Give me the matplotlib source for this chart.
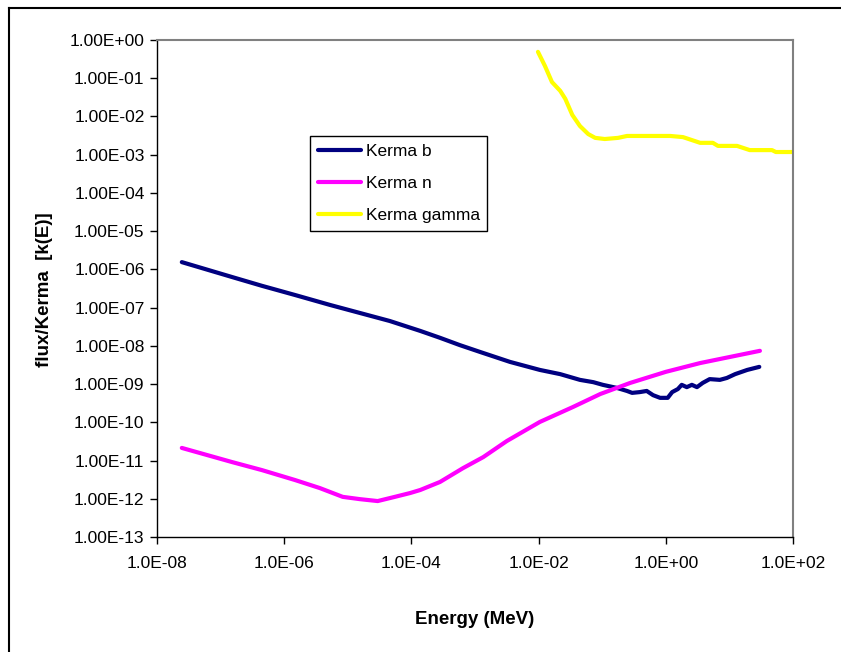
import numpy as np
import matplotlib
matplotlib.use("Agg")
import matplotlib.pyplot as plt
from matplotlib.lines import Line2D
from matplotlib.ticker import FixedLocator, FuncFormatter

plt.rcParams['font.family'] = ['Liberation Sans', 'DejaVu Sans']

# values, stored as log10(energy), log10(flux/kerma)
b_logE = [-7.61, -6.82, -6.35, -5.83, -5.28, -4.81, -4.34, -3.86, -3.55, -3.24,
          -2.92, -2.45, -1.98, -1.66, -1.35, -1.14, -0.99, -0.77, -0.61, -0.53,
          -0.41, -0.30, -0.20, -0.09, 0.03, 0.10, 0.19, 0.25, 0.33, 0.41,
          0.49, 0.58, 0.69, 0.85, 0.96, 1.09, 1.28, 1.47]
b_logK = [-5.81, -6.20, -6.43, -6.67, -6.93, -7.14, -7.35, -7.61, -7.79, -7.98,
          -8.16, -8.42, -8.63, -8.74, -8.89, -8.95, -9.02, -9.10, -9.18, -9.23,
          -9.21, -9.18, -9.29, -9.36, -9.36, -9.21, -9.13, -9.02, -9.08, -9.02,
          -9.08, -8.97, -8.87, -8.89, -8.84, -8.74, -8.63, -8.55]

n_logE = [-7.61, -6.82, -6.35, -5.83, -5.44, -5.08, -4.81, -4.53, -4.26, -4.02,
          -3.86, -3.55, -3.19, -2.87, -2.50, -1.98, -1.46, -1.03, -0.56, 0.0,
          0.54, 1.01, 1.48]
n_logK = [-10.67, -11.04, -11.25, -11.51, -11.72, -11.95, -12.01, -12.06, -11.95, -11.85,
          -11.77, -11.56, -11.20, -10.91, -10.49, -9.99, -9.60, -9.26, -8.97, -8.68,
          -8.45, -8.29, -8.13]

g_logE = [-2.01, -1.90, -1.79, -1.66, -1.58, -1.47, -1.35, -1.22, -1.11, -0.96,
          -0.75, -0.61, -0.25, 0.07, 0.27, 0.54, 0.74, 0.82, 1.12, 1.32,
          1.67, 1.73, 2.00]
g_logK = [-0.31, -0.68, -1.10, -1.33, -1.54, -1.96, -2.25, -2.46, -2.56, -2.59,
          -2.56, -2.51, -2.51, -2.51, -2.54, -2.69, -2.69, -2.77, -2.77, -2.88,
          -2.88, -2.93, -2.93]

series = [("Kerma b", b_logE, b_logK, "#000080"),
          ("Kerma n", n_logE, n_logK, "#FF00FF"),
          ("Kerma gamma", g_logE, g_logK, "#FFFF00")]

fig = plt.figure(figsize=(8.41, 6.52), dpi=100)
ax = fig.add_axes([157/841, 1-537/652, 636/841, 497/652])

for name, le, lk, col in series:
    ax.plot(10**np.array(le), 10**np.array(lk), color=col, lw=3,
            solid_capstyle='round', label=name)

ax.set_xscale('log')
ax.set_yscale('log')
ax.set_xlim(1e-8, 1e2)
ax.set_ylim(1e-13, 1e0)

ax.xaxis.set_major_locator(FixedLocator([10.0**k for k in range(-8, 3, 2)]))
ax.yaxis.set_major_locator(FixedLocator([10.0**k for k in range(-13, 1)]))
ax.xaxis.set_minor_locator(FixedLocator([]))
ax.yaxis.set_minor_locator(FixedLocator([]))
ax.xaxis.set_major_formatter(FuncFormatter(lambda v, p: f"{v:.1E}"))
ax.yaxis.set_major_formatter(FuncFormatter(lambda v, p: f"{v:.2E}"))
ax.tick_params(direction='out', length=5, width=1, labelsize=12.5)
ax.tick_params(axis='x', pad=9)
ax.tick_params(axis='y', pad=4)

for s in ['top', 'right']:
    ax.spines[s].set_color('#808080')
    ax.spines[s].set_linewidth(1.5)
for s in ['left', 'bottom']:
    ax.spines[s].set_color('black')
    ax.spines[s].set_linewidth(1)

fig.text(475/841, 1-620/652, "Energy (MeV)", ha='center', va='center',
         fontsize=13.5, fontweight='bold')
fig.text(45/841, 1-290/652, "flux/Kerma  [k(E)]", ha='center', va='center',
         rotation=90, fontsize=13.5, fontweight='bold')

leg = ax.legend(loc='upper left', bbox_to_anchor=(310/841, 1-136/652),
                bbox_transform=fig.transFigure, borderaxespad=0,
                fontsize=12.5, fancybox=False, framealpha=1, edgecolor='black',
                handlelength=2.5, labelspacing=0.98, borderpad=0.45,
                handletextpad=0.25)
leg.get_frame().set_linewidth(1)

# outer chart frame, cut off at right and bottom
fig.add_artist(Line2D([9/841, 9/841], [0, 1-8/652], color='black', lw=1.5,
                      transform=fig.transFigure))
fig.add_artist(Line2D([9/841, 1], [1-8/652, 1-8/652], color='black', lw=1.5,
                      transform=fig.transFigure))

fig.savefig("out.png", dpi=100)
